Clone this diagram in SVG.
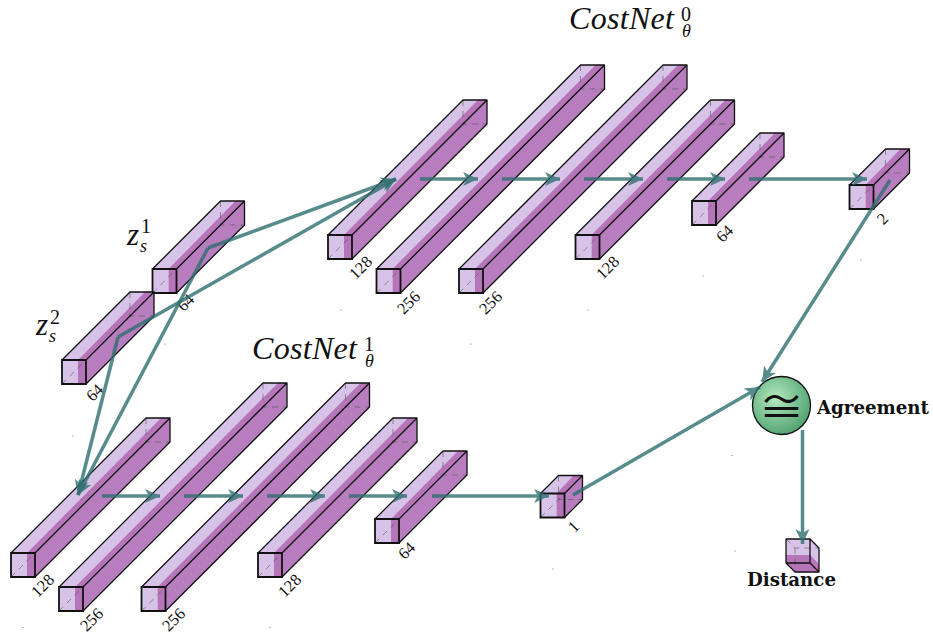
<svg xmlns="http://www.w3.org/2000/svg" width="933" height="634" viewBox="0 0 933 634">
<style>
text{font-family:"Liberation Serif","Times New Roman",serif;fill:#111}
.m{font-style:italic;font-size:32px;letter-spacing:.3px}
.z{font-style:italic;font-size:31px}
.sup{font-size:20px}
.sub{font-style:italic;font-size:18px}
.n{font-size:16.500px;text-anchor:middle}
.b{font-family:"DejaVu Serif",serif;font-weight:bold;font-size:18.200px}
.lt{fill:#d8c3e8}
.dk{fill:#b675b9}
.rt{fill:#b87dbe}
.ln{fill:none;stroke:#111;stroke-width:1.3;stroke-linejoin:round}
.fr{fill:none;stroke:#111;stroke-width:1.8}
.ds{fill:none;stroke:#555;stroke-opacity:.6;stroke-width:1;stroke-dasharray:6 5}
.c{fill:none;stroke:#2f6f6f;stroke-width:3.500;opacity:.8;marker-end:url(#ah)}
.dot{fill:#666}
</style>
<defs>
<marker id="ah" markerUnits="userSpaceOnUse" markerWidth="18" markerHeight="16" refX="15" refY="8" orient="auto"><path d="M0 1L15 8L0 15L4 8Z" fill="#2f6f6f"/></marker>
<radialGradient id="gr" cx=".4" cy=".38" r=".68"><stop offset="0" stop-color="#b4eabd"/><stop offset="1" stop-color="#4c9f6e"/></radialGradient>
<g id="b135"><path class="lt" d="M0 0h24l135 -135h-24z"/><path class="dk" d="M16 0h8l135 -135h-9z"/><path class="rt" d="M24 0v24l135 -135v-24z"/><path class="lt" d="M0 0h16v24h-16z"/><path class="dk" d="M16 0h8v24h-8z"/><path class="ds" d="M0 24l24 -24M135 -135v24h24"/><path class="ln" d="M0 0l135 -135h24l-135 135M159 -135v24l-135 135"/><path class="fr" d="M0 0h24v24h-24z"/></g>
<g id="b205"><path class="lt" d="M0 0h24l204 -204h-24z"/><path class="dk" d="M16 0h8l204 -204h-9z"/><path class="rt" d="M24 0v24l204 -204v-24z"/><path class="lt" d="M0 0h16v24h-16z"/><path class="dk" d="M16 0h8v24h-8z"/><path class="ds" d="M0 24l24 -24M204 -204v24h24"/><path class="ln" d="M0 0l204 -204h24l-204 204M228 -204v24l-204 204"/><path class="fr" d="M0 0h24v24h-24z"/></g>
<g id="b68"><path class="lt" d="M0 0h24l68 -68h-24z"/><path class="dk" d="M16 0h8l68 -68h-9z"/><path class="rt" d="M24 0v24l68 -68v-24z"/><path class="lt" d="M0 0h16v24h-16z"/><path class="dk" d="M16 0h8v24h-8z"/><path class="ds" d="M0 24l24 -24M68 -68v24h24"/><path class="ln" d="M0 0l68 -68h24l-68 68M92 -68v24l-68 68"/><path class="fr" d="M0 0h24v24h-24z"/></g>
<g id="b36"><path class="lt" d="M0 0h24l36 -36h-24z"/><path class="dk" d="M16 0h8l36 -36h-9z"/><path class="rt" d="M24 0v24l36 -36v-24z"/><path class="lt" d="M0 0h16v24h-16z"/><path class="dk" d="M16 0h8v24h-8z"/><path class="ds" d="M0 24l24 -24M36 -36v24h24"/><path class="ln" d="M0 0l36 -36h24l-36 36M60 -36v24l-36 36"/><path class="fr" d="M0 0h24v24h-24z"/></g>
<g id="b18"><path class="lt" d="M0 0h24l18 -18h-24z"/><path class="dk" d="M16 0h8l18 -18h-9z"/><path class="rt" d="M24 0v24l18 -18v-24z"/><path class="lt" d="M0 0h16v24h-16z"/><path class="dk" d="M16 0h8v24h-8z"/><path class="ds" d="M0 24l24 -24M18 -18v24h24"/><path class="ln" d="M0 0l18 -18h24l-18 18M42 -18v24l-18 18"/><path class="fr" d="M0 0h24v24h-24z"/></g>
</defs>

<g id="z1"><use href="#b68" x="152.500" y="269"/><text class="z" x="127" y="245">z</text><text class="sup" x="141" y="233">1</text><text class="sub" x="140" y="252">s</text><text class="n" transform="translate(186 303) rotate(-45)" y="5">64</text></g>
<g id="z2"><use href="#b68" x="62" y="360"/><text class="z" x="36" y="335">z</text><text class="sup" x="50" y="324">2</text><text class="sub" x="49" y="342">s</text><text class="n" transform="translate(95 393) rotate(-45)" y="5">64</text></g>

<g id="t128a"><use href="#b135" x="328" y="235"/><text class="n" transform="translate(361 268) rotate(-45)" y="5">128</text></g>
<g id="t256a"><use href="#b205" x="376.500" y="269"/><text class="n" transform="translate(409 303) rotate(-45)" y="5">256</text></g>
<g id="t256b"><use href="#b205" x="459" y="269"/><text class="n" transform="translate(491 303) rotate(-45)" y="5">256</text></g>
<g id="t128b"><use href="#b135" x="575.500" y="235"/><text class="n" transform="translate(608 268) rotate(-45)" y="5">128</text></g>
<g id="t64"><use href="#b68" x="692" y="201"/><text class="n" transform="translate(725 234) rotate(-45)" y="5">64</text></g>
<g id="t2"><use href="#b36" x="849.500" y="185"/><text class="n" transform="translate(883 219) rotate(-45)" y="5">2</text></g>

<g id="u128a"><use href="#b135" x="11" y="553"/><text class="n" transform="translate(43 586) rotate(-45)" y="5">128</text></g>
<g id="u256a"><use href="#b205" x="59" y="587"/><text class="n" transform="translate(92 620) rotate(-45)" y="5">256</text></g>
<g id="u256b"><use href="#b205" x="141.500" y="587"/><text class="n" transform="translate(174 620) rotate(-45)" y="5">256</text></g>
<g id="u128b"><use href="#b135" x="258" y="553"/><text class="n" transform="translate(290 586) rotate(-45)" y="5">128</text></g>
<g id="u64"><use href="#b68" x="375" y="519"/><text class="n" transform="translate(407 551) rotate(-45)" y="5">64</text></g>
<g id="u1"><use href="#b18" x="540.500" y="493.500"/><text class="n" transform="translate(574 527) rotate(-45)" y="5">1</text></g>

<g id="title0"><text class="m" x="569" y="29">CostNet</text><text class="sup" x="681" y="20.500">0</text><text class="sub" x="682" y="36.500">θ</text></g>
<g id="title1"><text class="m" x="252" y="359">CostNet</text><text class="sup" x="364" y="350.500">1</text><text class="sub" x="365" y="366.500">θ</text></g>

<g id="agreement"><circle cx="781.500" cy="405.500" r="29" fill="url(#gr)" stroke="#111" stroke-width="1.300"/><text x="781.500" y="422" text-anchor="middle" style="font-family:'Noto Sans CJK JP','DejaVu Sans',sans-serif;font-size:46px">≅</text><text class="b" x="817" y="414">Agreement</text></g>

<g id="distance"><path class="lt" d="M786 539h24l9 9v24h-24l-9 -9z"/><path class="dk" d="M786 555h24l9 9v8h-24l-9 -9z"/><path class="ds" d="M786 539l9 9h24M795 548v24"/><path class="ln" d="M786 539h24l9 9v24h-24l-9 -9zM786 563h24v-24M810 563l9 9"/><text class="b" x="747" y="586">Distance</text></g>

<g id="specks"><circle class="dot" cx="165" cy="344" r=".6"/><circle class="dot" cx="73" cy="436" r=".6"/><circle class="dot" cx="23" cy="627.500" r=".6"/><circle class="dot" cx="270" cy="627.500" r=".6"/><circle class="dot" cx="553" cy="569" r=".6"/><circle class="dot" cx="735" cy="551" r=".6"/><circle class="dot" cx="732" cy="455.500" r=".6"/><circle class="dot" cx="861" cy="260" r=".6"/><circle class="dot" cx="703" cy="276" r=".6"/><circle class="dot" cx="588" cy="310" r=".6"/><circle class="dot" cx="471" cy="344" r=".6"/><circle class="dot" cx="341" cy="310" r=".6"/></g>

<g id="connectors">
<path class="c" d="M208 248L396 179"/><path class="c" d="M208 248L78 495"/>
<path class="c" d="M118 337L396 179"/><path class="c" d="M118 337L78 495"/>
<path class="c" d="M420 179H478"/><path class="c" d="M502 179H560"/><path class="c" d="M584 179H643"/><path class="c" d="M667 179H725"/><path class="c" d="M749 179H867"/>
<path class="c" d="M102 496H160"/><path class="c" d="M184 496H243"/><path class="c" d="M267 496H325"/><path class="c" d="M349 496H407"/><path class="c" d="M432 496H549"/>
<path class="c" d="M890 180L762 382"/><path class="c" d="M573 495L760 387"/><path class="c" d="M802.500 430V544"/>
</g>
</svg>
